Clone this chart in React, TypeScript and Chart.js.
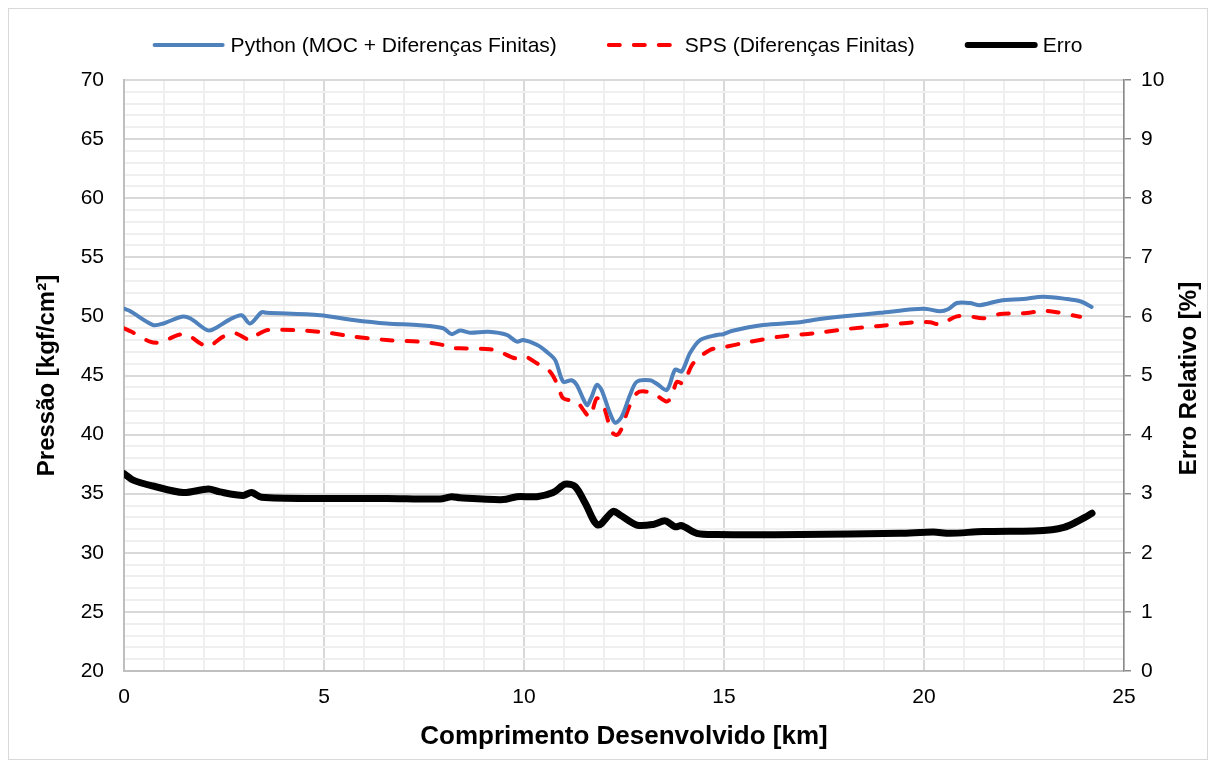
import React, { useEffect, useRef } from "react";
import { Chart, registerables } from "chart.js";

Chart.register(...registerables);

const FONT = "'Liberation Sans', Arial, sans-serif";

const legendLabels = ["Python (MOC + Diferenças Finitas)", "SPS (Diferenças Finitas)", "Erro"];
const xTitle = "Comprimento Desenvolvido [km]";
const yTitle = "Pressão [kgf/cm²]";
const y2Title = "Erro Relativo [%]";

const pyKm = [0, 0.15, 0.73, 0.98, 1.44, 1.65, 2.07, 2.23, 2.65, 2.94, 3.15, 3.44, 3.57, 4.9, 5.73, 6.57, 7.4, 7.98, 8.19, 8.4, 8.65, 9.11, 9.57, 9.82, 9.98, 10.32, 10.57, 10.78, 10.98, 11.19, 11.32, 11.57, 11.69, 11.82, 11.94, 12.15, 12.28, 12.44, 12.65, 12.82, 13.15, 13.32, 13.57, 13.78, 13.94, 14.15, 14.4, 14.82, 14.98, 15.19, 15.98, 16.9, 17.23, 18.07, 18.9, 19.73, 20.07, 20.4, 20.6, 20.82, 21.15, 21.4, 21.9, 22.48, 22.98, 23.57, 23.94, 24.19];
const pyP = [50.65, 50.45, 49.27, 49.4, 49.97, 49.84, 48.85, 48.9, 49.75, 50.1, 49.4, 50.35, 50.3, 50.1, 49.7, 49.4, 49.25, 49.0, 48.5, 48.8, 48.62, 48.7, 48.43, 47.86, 48.0, 47.6, 47.0, 46.3, 44.47, 44.6, 44.2, 42.5, 43.2, 44.2, 43.77, 41.8, 41.0, 41.5, 43.35, 44.47, 44.6, 44.3, 43.77, 45.5, 45.33, 46.9, 48.0, 48.43, 48.49, 48.77, 49.27, 49.5, 49.7, 50.03, 50.3, 50.6, 50.63, 50.43, 50.6, 51.13, 51.13, 50.95, 51.33, 51.47, 51.67, 51.47, 51.24, 50.8];

const spsKm = [0, 0.19, 0.65, 0.9, 1.36, 1.57, 1.9, 2.11, 2.48, 2.78, 3.15, 3.32, 3.61, 4.9, 5.73, 6.57, 7.4, 7.98, 8.15, 8.4, 9.15, 9.4, 9.78, 10.03, 10.32, 10.65, 10.86, 10.98, 11.32, 11.48, 11.65, 11.82, 11.98, 12.19, 12.32, 12.44, 12.61, 12.82, 13.07, 13.36, 13.57, 13.69, 13.82, 13.98, 14.23, 14.65, 14.98, 15.57, 16.4, 17.23, 18.07, 18.9, 19.73, 20.15, 20.4, 20.82, 21.15, 21.48, 21.9, 22.48, 22.98, 23.32, 23.9];
const spsP = [49.0, 48.7, 47.86, 47.8, 48.43, 48.49, 47.73, 47.44, 48.29, 48.57, 48.0, 48.43, 48.85, 48.7, 48.29, 48.0, 47.86, 47.58, 47.35, 47.3, 47.22, 47.0, 46.45, 46.6, 46.03, 45.33, 44.06, 43.07, 42.8, 42.1, 41.5, 43.07, 42.5, 40.25, 39.97, 40.5, 42.2, 43.5, 43.63, 43.2, 42.8, 43.2, 44.47, 44.34, 46.03, 47.16, 47.38, 47.8, 48.29, 48.57, 48.93, 49.19, 49.5, 49.5, 49.33, 50.0, 50.0, 49.84, 50.2, 50.26, 50.46, 50.35, 49.97];

const errKm = [0, 0.23, 0.73, 1.48, 2.11, 2.4, 2.98, 3.19, 3.44, 4.9, 6.57, 7.9, 8.19, 8.4, 9.48, 9.82, 10.32, 10.73, 11.03, 11.28, 11.53, 11.85, 12.23, 12.4, 12.82, 13.23, 13.53, 13.78, 13.94, 14.32, 14.82, 16.9, 19.4, 20.23, 20.65, 21.48, 22.73, 23.2, 23.5, 23.75, 24.0, 24.2];
const errE = [3.34, 3.23, 3.13, 3.02, 3.08, 3.03, 2.97, 3.02, 2.94, 2.92, 2.92, 2.91, 2.95, 2.93, 2.9, 2.95, 2.95, 3.02, 3.16, 3.12, 2.84, 2.47, 2.7, 2.64, 2.47, 2.48, 2.54, 2.44, 2.46, 2.33, 2.31, 2.31, 2.33, 2.35, 2.33, 2.36, 2.37, 2.39, 2.43, 2.5, 2.59, 2.67];

const toPts = (xs: number[], ys: number[]) => xs.map((x, i) => ({ x, y: ys[i] }));

export default function App() {
  const ref = useRef<HTMLCanvasElement>(null);

  useEffect(() => {
    if (!ref.current) return;

    const legendPlugin = {
      id: "customLegend",
      afterDraw(chart: any) {
        const ctx = chart.ctx as CanvasRenderingContext2D;
        const items = chart.data.datasets.map((ds: any) => ({
          label: ds.label,
          color: ds.borderColor,
          width: ds.legendWidth,
          dash: ds.borderDash || [],
          cap: ds.borderCapStyle || "butt",
        }));
        ctx.save();
        ctx.font = `21px ${FONT}`;
        const lineLen = 70, gap = 8, spacing = 50;
        const widths = items.map((it: any) => ctx.measureText(it.label).width);
        const total = widths.reduce((a: number, w: number) => a + lineLen + gap + w, 0) + spacing * (items.length - 1);
        let x = 608.5 - total / 2;
        const y = 36;
        items.forEach((it: any, i: number) => {
          ctx.beginPath();
          ctx.strokeStyle = it.color;
          ctx.lineWidth = it.width;
          ctx.lineCap = it.cap;
          ctx.setLineDash(it.dash);
          ctx.moveTo(x + (it.cap === "round" ? it.width / 2 : 0), y);
          ctx.lineTo(x + lineLen, y);
          ctx.stroke();
          ctx.setLineDash([]);
          ctx.fillStyle = "#000";
          ctx.textBaseline = "middle";
          ctx.textAlign = "left";
          ctx.fillText(it.label, x + lineLen + gap, y + 1);
          x += lineLen + gap + widths[i] + spacing;
        });

        // right axis title, reading bottom-to-top
        const area = chart.chartArea;
        ctx.font = `bold 24px ${FONT}`;
        ctx.translate(1180, (area.top + area.bottom) / 2 + 3);
        ctx.rotate(-Math.PI / 2);
        ctx.textAlign = "center";
        ctx.textBaseline = "middle";
        ctx.fillText(y2Title, 0, 0);
        ctx.restore();
      },
    };

    const tickFont = { family: FONT, size: 21 };
    const titleFont = { family: FONT, size: 24, weight: "bold" as const };

    const chart = new Chart(ref.current, {
      type: "line",
      data: {
        datasets: [
          {
            label: legendLabels[0],
            data: toPts(pyKm, pyP),
            borderColor: "#4f81bd",
            borderWidth: 4,
            legendWidth: 4,
            pointRadius: 0,
            tension: 0.3,
            yAxisID: "y",
            borderJoinStyle: "round",
            borderCapStyle: "round",
          } as any,
          {
            label: legendLabels[1],
            data: toPts(spsKm, spsP),
            borderColor: "#ff0000",
            borderWidth: 4,
            legendWidth: 4,
            borderDash: [11, 14],
            borderCapStyle: "round",
            pointRadius: 0,
            tension: 0.3,
            yAxisID: "y",
          } as any,
          {
            label: legendLabels[2],
            data: toPts(errKm, errE),
            borderColor: "#000000",
            borderWidth: 7,
            legendWidth: 6,
            pointRadius: 0,
            tension: 0.3,
            yAxisID: "y2",
            borderJoinStyle: "round",
            borderCapStyle: "round",
          } as any,
        ],
      },
      options: {
        responsive: false,
        animation: false,
        layout: { padding: { top: 71, left: 0, right: 0, bottom: 0 } },
        plugins: { legend: { display: false }, tooltip: { enabled: false } },
        scales: {
          x: {
            type: "linear",
            min: 0,
            max: 25,
            ticks: {
              stepSize: 1,
              autoSkip: false,
              maxRotation: 0,
              padding: 14,
              color: "#000",
              font: tickFont,
              callback: (v: any) => (Number(v) % 5 === 0 ? String(v) : ""),
            },
            grid: {
              color: (c: any) => (c.tick && c.tick.value % 5 === 0 ? "#d9d9d9" : "#efefef"),
              lineWidth: 2,
              drawTicks: false,
            },
            border: { color: "#bfbfbf", width: 2 },
            title: { display: true, text: xTitle, color: "#000", font: { family: FONT, size: 26, weight: "bold" }, padding: { top: 0, bottom: 7 } },
            afterFit: (s: any) => { s.height = 88; },
          },
          y: {
            type: "linear",
            position: "left",
            min: 20,
            max: 70,
            ticks: {
              stepSize: 1,
              autoSkip: false,
              padding: 20,
              color: "#000",
              font: tickFont,
              callback: (v: any) => (Number(v) % 5 === 0 ? String(v) : ""),
            },
            grid: {
              color: (c: any) => (c.tick && c.tick.value % 5 === 0 ? "#d9d9d9" : "#efefef"),
              lineWidth: 2,
              drawTicks: false,
            },
            border: { color: "#bfbfbf", width: 2 },
            title: { display: true, text: yTitle, color: "#000", font: titleFont, padding: { top: 24, bottom: 0 } },
            afterFit: (s: any) => { s.width = 115; },
          },
          y2: {
            type: "linear",
            position: "right",
            min: 0,
            max: 10,
            ticks: { stepSize: 1, padding: 10, color: "#000", font: tickFont },
            grid: { drawOnChartArea: false, drawTicks: true, tickLength: 7, color: "#8a8a8a", lineWidth: 1.5 },
            border: { color: "#8a8a8a", width: 1.5 },
            title: { display: false },
            afterFit: (s: any) => { s.width = 83; },
          },
        },
      } as any,
      plugins: [legendPlugin],
    });

    return () => chart.destroy();
  }, []);

  return (
    <div
      style={{
        width: 1200,
        height: 752,
        border: "1px solid #d9d9d9",
        boxSizing: "border-box",
        background: "#fff",
      }}
    >
      <canvas ref={ref} width={1198} height={750} style={{ display: "block" }} />
    </div>
  );
}
